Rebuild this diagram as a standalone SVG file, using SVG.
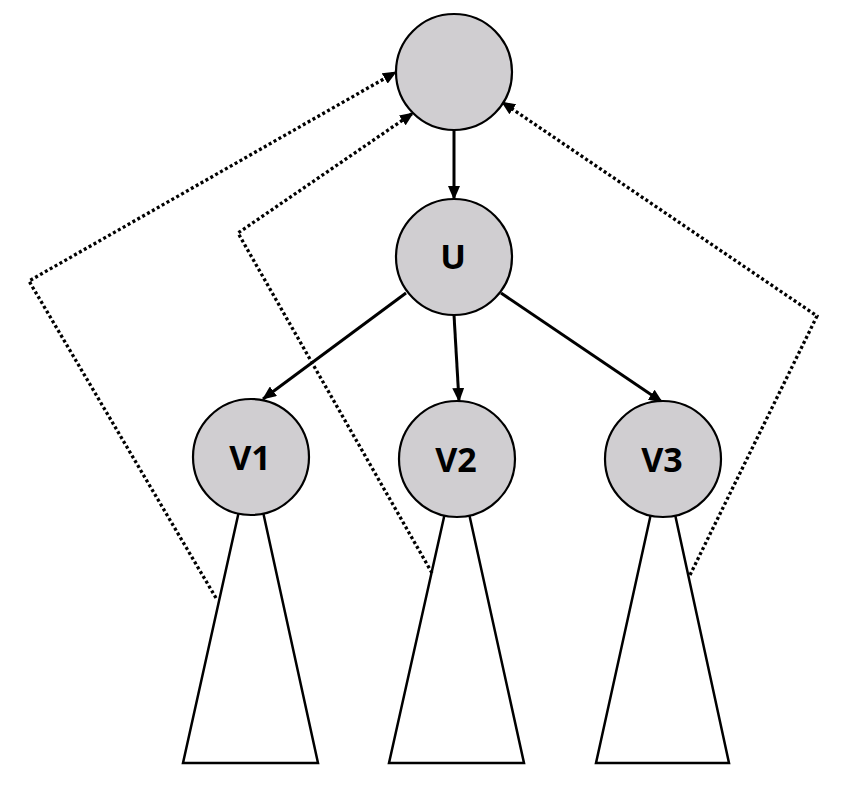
<svg xmlns="http://www.w3.org/2000/svg" width="847" height="791" viewBox="0 0 847 791">
  <style>
    .tri { fill: #ffffff; stroke: #000; stroke-width: 2.5; stroke-linejoin: miter; }
    .node circle { fill: #d0ced1; stroke: #000; stroke-width: 2.2; }
    .node text { font-family: "Open Sans", "Noto Sans", "Liberation Sans", sans-serif; font-weight: bold; font-size: 34px; text-anchor: middle; fill: #000; }
    .solid { fill: none; stroke: #000; stroke-width: 3; marker-end: url(#arrow); }
    .dotted { fill: none; stroke: #000; stroke-width: 3.3; stroke-dasharray: 3 2.6; marker-end: url(#arrow); }
  </style>
  <defs>
    <marker id="arrow" markerUnits="userSpaceOnUse" markerWidth="14" markerHeight="12" refX="13" refY="6" orient="auto" viewBox="0 0 14 12">
      <path d="M0,0 L14,6 L0,12 z" fill="#000"/>
    </marker>
  </defs>
  <rect width="847" height="791" fill="#fff"/>

  <g id="subtrees">
    <polygon id="tree-v1" class="tri" points="251,457 318,763 183,763"/>
    <polygon id="tree-v2" class="tri" points="457,459 524,763 389,763"/>
    <polygon id="tree-v3" class="tri" points="663,459 729,763 596,763"/>
  </g>

  <g id="connectors">
    <line class="solid" x1="454" y1="130" x2="454" y2="199"/>
    <line class="solid" x1="406" y1="293" x2="263" y2="399"/>
    <line class="solid" x1="454" y1="315" x2="459" y2="401"/>
    <line class="solid" x1="501" y1="293" x2="662" y2="402"/>
    <polyline class="dotted" points="216,598 29,281 396,72"/>
    <polyline class="dotted" points="432,573 238,233 413,113"/>
    <polyline class="dotted" points="690,575 817,316 502,102"/>
  </g>

  <g id="root" class="node">
    <circle cx="454" cy="72" r="58"/>
  </g>
  <g id="U" class="node">
    <circle cx="454" cy="257" r="58"/>
    <text x="453" y="269">U</text>
  </g>
  <g id="V1" class="node">
    <circle cx="251" cy="457" r="58"/>
    <text x="250" y="470">V1</text>
  </g>
  <g id="V2" class="node">
    <circle cx="457" cy="459" r="58"/>
    <text x="456" y="472">V2</text>
  </g>
  <g id="V3" class="node">
    <circle cx="663" cy="459" r="58"/>
    <text x="662" y="472">V3</text>
  </g>
</svg>
